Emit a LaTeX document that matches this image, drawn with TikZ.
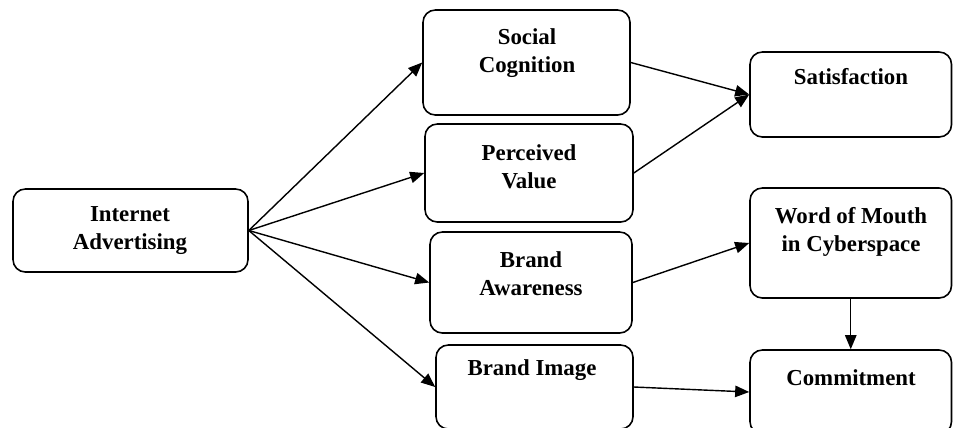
\documentclass[tikz,border=0pt]{standalone}
\usepackage{fontspec}
\setmainfont{Liberation Serif}
\usepackage{tikz}
\usetikzlibrary{fit}
\usetikzlibrary{arrows.meta}

\begin{document}
\begin{tikzpicture}[x=0.02cm,y=-0.02cm,
  box/.style={draw,line width=0.9pt,rounded corners=7pt,inner sep=0pt},
  txt/.style={align=center,font=\fontsize{13}{15.9}\selectfont\bfseries},
  link/.style={draw,line width=0.8pt,-{Triangle[length=8pt,width=6.5pt]}}]
\useasboundingbox (0,0) rectangle (953,427);
\clip (0,0) rectangle (953,427);
\node[box,fit={(13,189) (248,272)}] (ia) {};
\node[box,fit={(423,10) (630,115)}] (sc) {};
\node[box,fit={(425,124) (633,222)}] (pv) {};
\node[box,fit={(430,232) (632,333)}] (ba) {};
\node[box,fit={(436,345) (633,429)}] (bi) {};
\node[box,fit={(750,52) (951.5,137)}] (sat) {};
\node[box,fit={(750,188) (951.5,298)}] (wom) {};
\node[box,fit={(750,350) (951.5,434)}] (com) {};
\node[txt] (iatext) at (130,231) {Internet\\Advertising};
\node[txt] (sctext) at (527,53) {Social\\Cognition};
\node[txt] (pvtext) at (529,167) {Perceived\\Value};
\node[txt] (batext) at (531,274) {Brand\\Awareness};
\node[txt] (bitext) at (532,370) {Brand Image};
\node[txt] (sattext) at (851,77) {Satisfaction};
\node[txt] (womtext) at (851,232) {Word of Mouth\\in Cyberspace};
\node[txt] (comtext) at (851,378) {Commitment};
\draw[link] (ia.east) -- (sc.west);
\draw[link] (ia.east) -- (pv.west);
\draw[link] (ia.east) -- (ba.west);
\draw[link] (ia.east) -- (bi.west);
\draw[link] (sc.east) -- (sat.west);
\draw[link] (pv.east) -- (sat.west);
\draw[link] (ba.east) -- (wom.west);
\draw[link] (bi.east) -- (com.west);
\draw[link] (wom.south) -- (com.north);
\end{tikzpicture}
\end{document}
